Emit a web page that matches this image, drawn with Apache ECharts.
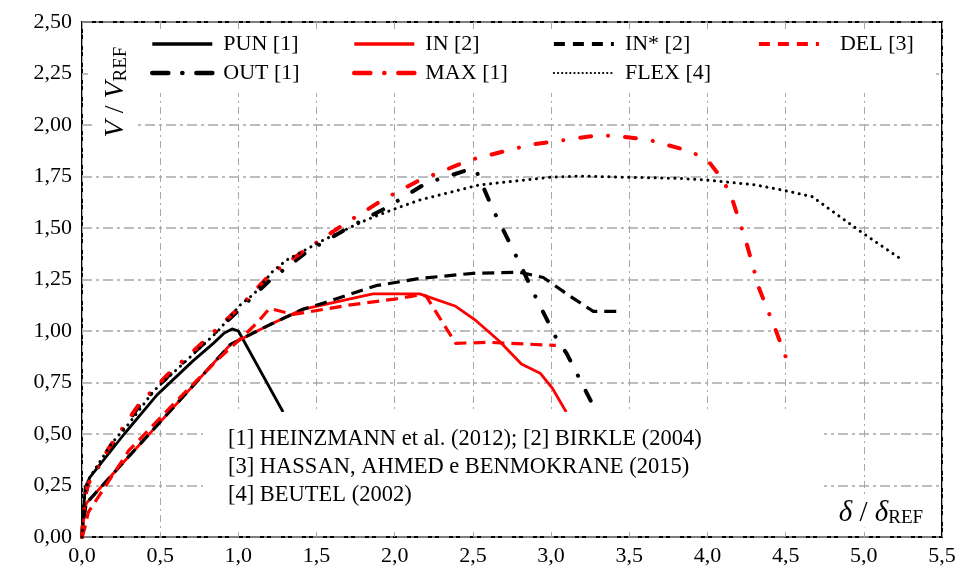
<!DOCTYPE html>
<html><head><meta charset="utf-8">
<script src="https://cdn.jsdelivr.net/npm/echarts@6/dist/echarts.min.js"></script>
<style>html,body{margin:0;padding:0;background:#fff}#c{width:962px;height:578px}</style>
</head><body><div id="c"></div>
<script>
// ---- data (x = δ/δREF, y = V/VREF) ----
const xTicks = [0, 0.5, 1, 1.5, 2, 2.5, 3, 3.5, 4, 4.5, 5, 5.5];
const yTicks = [0, 0.25, 0.5, 0.75, 1, 1.25, 1.5, 1.75, 2, 2.25, 2.5];
const seriesNames = ['PUN [1]', 'IN [2]', 'IN* [2]', 'DEL [3]', 'OUT [1]', 'MAX [1]', 'FLEX [4]'];
const pun = [[0,0],[0.01,0.12],[0.02,0.24],[0.05,0.29],[0.27,0.50],[0.48,0.69],[0.71,0.855],[0.84,0.94],[0.91,0.99],[0.96,1.01],[1.0,1.0],[1.286,0.607]];
const inn = [[0,0],[0.01,0.08],[0.027,0.163],[0.19,0.30],[0.46,0.525],[0.95,0.935],[1.2,1.03],[1.41,1.105],[1.86,1.18],[2.16,1.18],[2.39,1.12],[2.52,1.05],[2.67,0.95],[2.81,0.84],[2.93,0.795],[3.01,0.72],[3.097,0.607]];
const inStar = [[0,0],[0.01,0.08],[0.027,0.163],[0.19,0.30],[0.46,0.525],[0.95,0.935],[1.2,1.03],[1.41,1.105],[1.52,1.13],[1.88,1.22],[2.16,1.255],[2.5,1.28],[2.8,1.285],[2.95,1.26],[3.12,1.17],[3.27,1.095],[3.43,1.095]];
const del = [[0,0],[0.02,0.05],[0.04,0.12],[0.3,0.42],[0.61,0.665],[0.88,0.87],[1.01,0.96],[1.12,1.04],[1.2,1.11],[1.35,1.08],[1.7,1.125],[2.0,1.155],[2.16,1.175],[2.2,1.17],[2.39,0.94],[2.6,0.945],[3.03,0.93]];
const out = [[0,0],[0.01,0.12],[0.02,0.2],[0.04,0.26],[0.17,0.42],[0.36,0.63],[0.55,0.78],[0.78,0.94],[1.0,1.10],[1.2,1.245],[1.44,1.385],[1.7,1.50],[1.95,1.60],[2.2,1.717],[2.5,1.79],[2.52,1.78],[2.63,1.587],[2.76,1.39],[2.9,1.167],[3.03,0.97],[3.1,0.89],[3.29,0.607]];
const max = [[0,0],[0.01,0.1],[0.02,0.2],[0.04,0.26],[0.17,0.43],[0.36,0.64],[0.55,0.79],[0.78,0.95],[1.0,1.11],[1.19,1.265],[1.42,1.39],[1.7,1.53],[1.92,1.635],[2.14,1.725],[2.48,1.83],[2.86,1.903],[3.16,1.935],[3.31,1.951],[3.46,1.943],[3.63,1.927],[3.9,1.87],[4.01,1.82],[4.1,1.733],[4.16,1.636],[4.25,1.426],[4.33,1.207],[4.44,0.997],[4.5,0.875]];
const flex = [[0,0],[0.01,0.12],[0.02,0.22],[0.05,0.29],[0.19,0.455],[0.3,0.55],[0.46,0.71],[0.68,0.865],[0.87,1.0],[1.01,1.125],[1.1,1.18],[1.22,1.29],[1.31,1.345],[1.54,1.44],[1.82,1.54],[1.99,1.59],[2.16,1.636],[2.54,1.709],[2.99,1.746],[3.18,1.752],[3.5,1.746],[3.82,1.741],[3.99,1.733],[4.3,1.71],[4.5,1.681],[4.67,1.652],[4.99,1.477],[5.24,1.348]];
const refLines = ['[1] HEINZMANN et al. (2012); [2] BIRKLE (2004)', '[3] HASSAN, AHMED e BENMOKRANE (2015)', '[4] BEUTEL (2002)'];

const FONT = 'Liberation Serif, Times New Roman, serif';
const chart = echarts.init(document.getElementById('c'));
const dashDot = [11, 17, 0.1, 17];
const styles = {
  'PUN [1]': { color: '#000', width: 2.8, type: 'solid', cap: 'butt' },
  'IN [2]': { color: '#ff0000', width: 2.8, type: 'solid', cap: 'butt' },
  'IN* [2]': { color: '#000', width: 3.2, type: [12, 7], cap: 'butt' },
  'DEL [3]': { color: '#ff0000', width: 3.2, type: [12, 7], cap: 'butt' },
  'OUT [1]': { color: '#000', width: 4, type: dashDot, cap: 'round' },
  'MAX [1]': { color: '#ff0000', width: 4, type: dashDot, cap: 'round' },
  'FLEX [4]': { color: '#000', width: 3, type: [0.1, 6.5], cap: 'round' }
};
function line(name, data) {
  const s = styles[name];
  return { name, type: 'line', data, symbol: 'none', showSymbol: false, smooth: false,
    lineStyle: { color: s.color, width: s.width, type: s.type, cap: s.cap, join: 'round' }, itemStyle: { color: s.color }, z: 3 };
}
function legItem(name) {
  const s = styles[name];
  let lt = s.type, w = s.width + 0.6;
  if (name === 'OUT [1]' || name === 'MAX [1]') lt = [16, 14, 0.1, 14];
  if (name === 'IN* [2]' || name === 'DEL [3]') lt = [11, 8];
  if (name === 'FLEX [4]') { lt = [0.1, 4]; w = 2.2; }
  return { name, lineStyle: { color: s.color, width: w, type: lt, cap: s.cap }, itemStyle: { opacity: 0 } };
}
const legendBase = { orient: 'vertical', padding: 0, itemGap: 7, itemWidth: 60, itemHeight: 14,
  itemStyle: { opacity: 0 },
  textStyle: { fontFamily: FONT, fontSize: 22, color: '#000', lineHeight: 22, padding: [0, 0, 0, 6] }, z: 6 };
chart.setOption({
  animation: false,
  grid: { left: 82, right: 20, top: 22, bottom: 41, show: true, borderColor: '#000', borderWidth: 2, backgroundColor: 'transparent' },
  xAxis: { type: 'value', min: 0, max: 5.5, interval: 0.5,
    axisLine: { show: false }, axisTick: { show: false },
    axisLabel: { fontFamily: FONT, fontSize: 22, color: '#000', margin: 8, formatter: v => v.toFixed(1).replace('.', ',') },
    splitLine: { show: true, lineStyle: { color: '#a8a8a8', width: 1, type: [7, 4, 2, 4] } } },
  yAxis: { type: 'value', min: 0, max: 2.5, interval: 0.25,
    axisLine: { show: false }, axisTick: { show: false },
    axisLabel: { fontFamily: FONT, fontSize: 22, color: '#000', margin: 10, formatter: v => v.toFixed(2).replace('.', ',') },
    splitLine: { show: true, lineStyle: { color: '#a8a8a8', width: 1.5, type: [10, 4, 3, 4] } } },
  legend: [
    Object.assign({}, legendBase, { left: 150, top: 33, data: [legItem('PUN [1]'), legItem('OUT [1]')] }),
    Object.assign({}, legendBase, { left: 352, top: 33, data: [legItem('IN [2]'), legItem('MAX [1]')] }),
    Object.assign({}, legendBase, { left: 552, top: 33, data: [legItem('IN* [2]'), legItem('FLEX [4]')] }),
    Object.assign({}, legendBase, { left: 757, top: 33, data: [legItem('DEL [3]')], textStyle: Object.assign({}, legendBase.textStyle, { padding: [0, 0, 0, 16] }) })
  ],
  graphic: [
    { type: 'rect', shape: { x: 88, y: 30, width: 848, height: 63 }, style: { fill: '#fff' }, z: 1, silent: true },
    { type: 'rect', shape: { x: 92, y: 30, width: 46, height: 120 }, style: { fill: '#fff' }, z: 1, silent: true },
    { type: 'text', x: 116, y: 92, rotation: Math.PI / 2, z: 7,
      style: { text: '{i|V} / {i|V}{s|REF}', align: 'center', verticalAlign: 'middle',
        rich: { i: { fontFamily: FONT, fontStyle: 'italic', fontSize: 28, fill: '#000' },
                s: { fontFamily: FONT, fontSize: 19, fill: '#000', verticalAlign: 'bottom', padding: [10, 0, 0, 0] } },
        font: '28px ' + FONT, fill: '#000' } },
    { type: 'rect', shape: { x: 203, y: 412, width: 621, height: 117 }, style: { fill: '#fff' }, z: 10, silent: true },
    { type: 'text', left: 228, top: 425, z: 11,
      style: { text: refLines.join('\n'), font: '22.5px ' + FONT, fill: '#000', lineHeight: 28 } },
    { type: 'text', x: 881, y: 513, z: 11,
      style: { text: '{i|δ} / {i|δ}{s|REF}', align: 'center', verticalAlign: 'middle', backgroundColor: '#fff',
        rich: { i: { fontFamily: FONT, fontStyle: 'italic', fontSize: 29, fill: '#000' },
                s: { fontFamily: FONT, fontSize: 19, fill: '#000', verticalAlign: 'bottom', padding: [10, 0, 0, 0] } },
        font: '29px ' + FONT, fill: '#000' } }
  ],
  series: [
    line('PUN [1]', pun),
    line('IN [2]', inn),
    line('IN* [2]', inStar),
    line('DEL [3]', del),
    line('OUT [1]', out),
    line('MAX [1]', max),
    line('FLEX [4]', flex)
  ]
});
</script></body></html>
